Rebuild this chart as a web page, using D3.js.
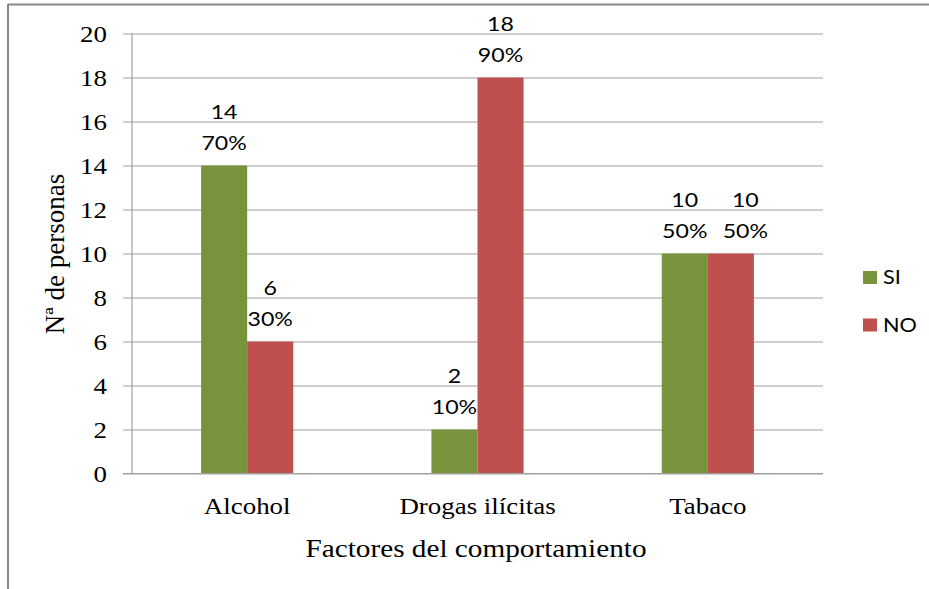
<!DOCTYPE html>
<html><head><meta charset="utf-8">
<script src="https://cdn.jsdelivr.net/npm/d3@7"></script>
<style>body{margin:0;background:#fff}svg{display:block}</style>
</head><body><svg id="c" width="929" height="589"></svg>
<script>
const categories = ["Alcohol", "Drogas ilícitas", "Tabaco"];
const seriesNames = ["SI", "NO"];
const siValues = [14, 2, 10];
const noValues = [6, 18, 10];
const siPct = ["70%", "10%", "50%"];
const noPct = ["30%", "90%", "50%"];
const yTicks = [0, 2, 4, 6, 8, 10, 12, 14, 16, 18, 20];
const colors = ["#77933C", "#C0504D"];

const svg = d3.select("#c");
svg.append("line").attr("x1", 8).attr("x2", 929).attr("y1", 4.5).attr("y2", 4.5).attr("stroke", "#888").attr("stroke-width", 2);
svg.append("line").attr("x1", 8).attr("x2", 8).attr("y1", 4).attr("y2", 589).attr("stroke", "#888").attr("stroke-width", 2);

const L = 132, R = 823, T = 33.5, B = 473.5;
const x = d3.scaleBand().domain(categories).range([L, R]).padding(0);
const y = d3.scaleLinear().domain([0, 20]).range([B, T]);
const bw = x.bandwidth() * 0.2;
const xs = d3.scaleBand().domain(seriesNames).range([0, bw * 2]);

const yAxis = d3.axisLeft(y).tickValues(yTicks).tickSize(-(R - L)).tickPadding(25);
const gy = svg.append("g").attr("transform", `translate(${L},0)`).call(yAxis);
gy.select(".domain").remove();
gy.selectAll(".tick line").attr("x1", -9).attr("stroke", "#a0a0a0").attr("stroke-width", 1.2);
gy.selectAll(".tick text").attr("class", "hs").attr("font-family", "Liberation Serif").attr("font-size", 23).attr("fill", "#000").attr("dy", "0.34em");
svg.append("line").attr("x1", L).attr("x2", L).attr("y1", T).attr("y2", B).attr("stroke", "#a0a0a0").attr("stroke-width", 1.2);

const data = categories.map((c, i) => ({ c, vals: [siValues[i], noValues[i]], pct: [siPct[i], noPct[i]] }));
const groups = svg.append("g").selectAll("g").data(data).join("g")
  .attr("transform", d => `translate(${x(d.c) + x.bandwidth() / 2 - bw},0)`);
groups.selectAll("rect").data(d => d.vals.map((v, k) => ({ v, k }))).join("rect")
  .attr("x", d => xs(seriesNames[d.k])).attr("width", xs.bandwidth())
  .attr("y", d => y(d.v)).attr("height", d => y(0) - y(d.v))
  .attr("fill", d => colors[d.k]);
svg.append("line").attr("x1", L - 9).attr("x2", R).attr("y1", B).attr("y2", B).attr("stroke", "#a0a0a0").attr("stroke-width", 1.2);

function stretch(sel, k) {
  sel.each(function () {
    const len = this.getComputedTextLength();
    d3.select(this).attr("textLength", len * k).attr("lengthAdjust", "spacingAndGlyphs");
  });
}

groups.each(function (d) {
  const g = d3.select(this);
  const labs = d.vals.map((v, k) => {
    const cx = xs(seriesNames[k]) + xs.bandwidth() / 2;
    const top = y(v);
    const lg = g.append("g");
    lg.append("text").attr("class", "hs2").attr("x", cx).attr("y", top - 47).attr("text-anchor", "middle")
      .attr("font-family", "Lato").attr("font-size", 18.5).attr("fill", "#000").text(v);
    lg.append("text").attr("class", "hs2").attr("x", cx).attr("y", top - 16).attr("text-anchor", "middle")
      .attr("font-family", "Lato").attr("font-size", 18.5).attr("fill", "#000").text(d.pct[k]);
    stretch(lg.selectAll("text"), 1.25);
    return lg;
  });
  // avoid overlapping labels: push the second label to the right
  const b0 = labs[0].node().getBBox(), b1 = labs[1].node().getBBox();
  const vOverlap = b0.y < b1.y + b1.height && b1.y < b0.y + b0.height;
  if (vOverlap && b1.x < b0.x + b0.width + 15) {
    labs[1].attr("transform", `translate(${b0.x + b0.width + 15 - b1.x},0)`);
  }
});

const xAxis = d3.axisBottom(x).tickSize(0).tickPadding(24);
const gx = svg.append("g").attr("transform", `translate(0,${B})`).call(xAxis);
gx.select(".domain").remove();
gx.selectAll(".tick text").attr("class", "hs").attr("font-family", "Liberation Serif").attr("font-size", 23).attr("fill", "#000");

svg.append("text").attr("class", "hs").attr("x", 476).attr("y", 557).attr("text-anchor", "middle")
  .attr("font-family", "Liberation Serif").attr("font-size", 25).attr("fill", "#000").text("Factores del comportamiento");
svg.append("text").attr("transform", "translate(64,254) rotate(-90)").attr("text-anchor", "middle")
  .attr("font-family", "Liberation Serif").attr("font-size", 27).attr("fill", "#000").text("Nª de personas");

const leg = svg.append("g").selectAll("g").data(seriesNames).join("g")
  .attr("transform", (d, i) => `translate(863,${271 + i * 47.5})`);
leg.append("rect").attr("width", 14).attr("height", 13).attr("fill", (d, i) => colors[i]);
leg.append("text").attr("class", "hs").attr("x", 20).attr("y", 13).attr("font-family", "Lato").attr("font-size", 18.5).attr("fill", "#000").text(d => d);

stretch(svg.selectAll("text.hs"), 1.17);
</script></body></html>
